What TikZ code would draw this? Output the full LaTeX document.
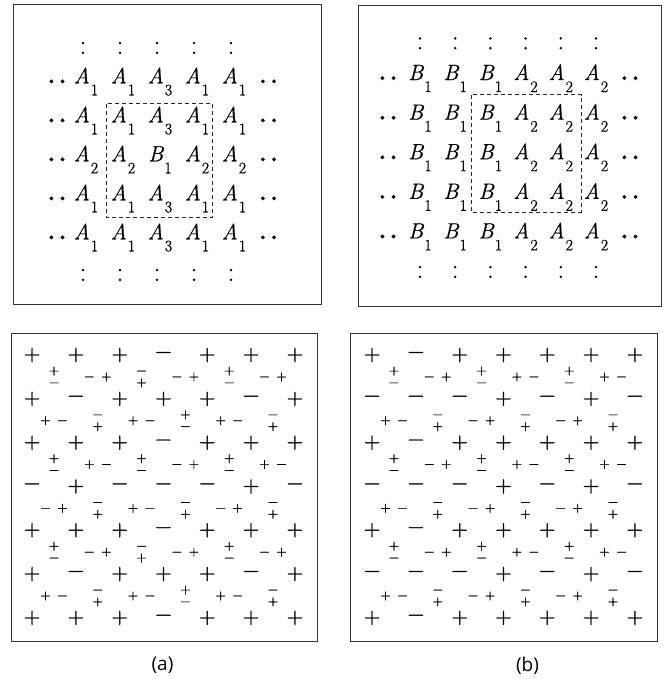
\documentclass[tikz,border=0pt]{standalone}
\usepackage{fontspec}
\newfontfamily\capfont{Open Sans}
\newfontfamily\gridfont{Latin Modern Roman}[FakeBold=0.6]
\newfontfamily\signfont{Latin Modern Roman}[FakeBold=1.5]
\usetikzlibrary{matrix}

\newcommand\lsub[1]{\kern1pt\lower12pt\hbox{\fontsize{16}{16}\selectfont\upshape #1}}
\newcommand\hpair[2]{\hbox to 0pt{\hss\fontsize{13.5}{12}\selectfont#1\kern6.7pt#2\hss}}
\newcommand\vpair[2]{$\vcenter{\fontsize{13.5}{12}\selectfont\baselineskip=11.8pt\hbox{\vphantom{+}#1}\hbox{\vphantom{+}#2}}$}

\begin{document}
\begin{tikzpicture}[x=1pt, y=-1pt,
	frame/.style={draw=black!80, line width=0.9pt},
	dashbox/.style={draw=black!85, line width=0.7pt, dash pattern=on 4pt off 3pt},
	vd/.style={font=\fontsize{28}{28}\selectfont\gridfont\upshape},
	dd/.style={font=\fontsize{26}{26}\selectfont\gridfont\bfseries}]
	\useasboundingbox (0,0) rectangle (671,679);
	% frames
	\draw[frame] (13,4) rectangle (321,304);
	\draw[frame] (358,5) rectangle (661,306);
	\draw[frame] (11,333) rectangle (317,641);
	\draw[frame] (350,333) rectangle (657,641);
	% (a) top
	\matrix (L) [matrix of nodes, nodes={minimum width=37pt, minimum height=39pt, text height=15pt, text depth=12pt, inner sep=0pt, anchor=center, font=\fontsize{22}{22}\selectfont\gridfont\itshape}, inner sep=0pt, column sep=0pt, row sep=0pt] at (162.75,166) {
		&[-8pt] |[vd]| :\kern6pt & |[vd]| :\kern6pt & |[vd]| :\kern6pt & |[vd]| :\kern6pt & |[vd]| :\kern6pt &[-2.5pt] \\[-9.7pt]
		|[dd]| .\kern3pt. &[-8pt] A\lsub{1} & A\lsub{1} & A\lsub{3} & A\lsub{1} & A\lsub{1} &[-2.5pt] |[dd]| .\kern3pt. \\
		|[dd]| .\kern3pt. &[-8pt] A\lsub{1} & A\lsub{1} & A\lsub{3} & A\lsub{1} & A\lsub{1} &[-2.5pt] |[dd]| .\kern3pt. \\
		|[dd]| .\kern3pt. &[-8pt] A\lsub{2} & A\lsub{2} & B\lsub{1} & A\lsub{2} & A\lsub{2} &[-2.5pt] |[dd]| .\kern3pt. \\
		|[dd]| .\kern3pt. &[-8pt] A\lsub{1} & A\lsub{1} & A\lsub{3} & A\lsub{1} & A\lsub{1} &[-2.5pt] |[dd]| .\kern3pt. \\
		|[dd]| .\kern3pt. &[-8pt] A\lsub{1} & A\lsub{1} & A\lsub{3} & A\lsub{1} & A\lsub{1} &[-2.5pt] |[dd]| .\kern3pt. \\[2.7pt]
		&[-8pt] |[vd]| :\kern6pt & |[vd]| :\kern6pt & |[vd]| :\kern6pt & |[vd]| :\kern6pt & |[vd]| :\kern6pt &[-2.5pt] \\
	};
	\draw[dashbox] ([shift={(2.2,2.7)}]L-3-3.north west) rectangle ([shift={(-3.2,-1)}]L-5-5.south east);
	% (b) top
	\matrix (R) [matrix of nodes, nodes={minimum width=35.2pt, minimum height=39.6pt, text height=15pt, text depth=12pt, inner sep=0pt, anchor=center, font=\fontsize{22}{22}\selectfont\gridfont\itshape}, inner sep=0pt, column sep=0pt, row sep=0pt] at (509,162.15) {
		&[-3.2pt] |[vd]| : & |[vd]| : & |[vd]| : & |[vd]| : & |[vd]| : & |[vd]| : &[-1.2pt] \\[-8.9pt]
		|[dd]| .\kern3pt. &[-3.2pt] B\lsub{1} & B\lsub{1} & B\lsub{1} & A\lsub{2} & A\lsub{2} & A\lsub{2} &[-1.2pt] |[dd]| .\kern3pt. \\
		|[dd]| .\kern3pt. &[-3.2pt] B\lsub{1} & B\lsub{1} & B\lsub{1} & A\lsub{2} & A\lsub{2} & A\lsub{2} &[-1.2pt] |[dd]| .\kern3pt. \\
		|[dd]| .\kern3pt. &[-3.2pt] B\lsub{1} & B\lsub{1} & B\lsub{1} & A\lsub{2} & A\lsub{2} & A\lsub{2} &[-1.2pt] |[dd]| .\kern3pt. \\
		|[dd]| .\kern3pt. &[-3.2pt] B\lsub{1} & B\lsub{1} & B\lsub{1} & A\lsub{2} & A\lsub{2} & A\lsub{2} &[-1.2pt] |[dd]| .\kern3pt. \\
		|[dd]| .\kern3pt. &[-3.2pt] B\lsub{1} & B\lsub{1} & B\lsub{1} & A\lsub{2} & A\lsub{2} & A\lsub{2} &[-1.2pt] |[dd]| .\kern3pt. \\
		&[-3.2pt] |[vd]| : & |[vd]| : & |[vd]| : & |[vd]| : & |[vd]| : & |[vd]| : &[-1.2pt] \\
	};
	\draw[dashbox] ([shift={(-1.1,-3.3)}]R-3-4.north west) rectangle ([shift={(2.3,-5.4)}]R-5-6.south east);
	% (a) signs
	\matrix (Sa) [matrix of nodes, nodes={minimum size=21.9pt, inner sep=0pt, anchor=center, font=\fontsize{22.5}{22.5}\selectfont\signfont}, inner sep=0pt, column sep=0pt, row sep=0pt] at (163.5,486.5) {
		+ & & + & & + & & − & & + & & + & & + \\
		& \vpair{+}{−} & & \hpair{−}{+} & & \vpair{−}{+} & & \hpair{−}{+} & & \vpair{+}{−} & & \hpair{−}{+} & \\
		+ & & − & & + & & + & & + & & − & & + \\
		& \hpair{+}{−} & & \vpair{−}{+} & & \hpair{+}{−} & & \vpair{+}{−} & & \hpair{+}{−} & & \vpair{−}{+} & \\
		+ & & + & & + & & − & & + & & + & & + \\
		& \vpair{+}{−} & & \hpair{+}{−} & & \vpair{+}{−} & & \hpair{−}{+} & & \vpair{+}{−} & & \hpair{+}{−} & \\
		− & & + & & − & & − & & − & & + & & − \\
		& \hpair{−}{+} & & \vpair{−}{+} & & \hpair{+}{−} & & \vpair{−}{+} & & \hpair{−}{+} & & \vpair{−}{+} & \\
		+ & & + & & + & & − & & + & & + & & + \\
		& \vpair{+}{−} & & \hpair{−}{+} & & \vpair{−}{+} & & \hpair{−}{+} & & \vpair{+}{−} & & \hpair{−}{+} & \\
		+ & & − & & + & & + & & + & & − & & + \\
		& \hpair{+}{−} & & \vpair{−}{+} & & \hpair{+}{−} & & \vpair{+}{−} & & \hpair{+}{−} & & \vpair{−}{+} & \\
		+ & & + & & + & & − & & + & & + & & + \\
	};
	% (b) signs
	\matrix (Sb) [matrix of nodes, nodes={minimum size=21.9pt, inner sep=0pt, anchor=center, font=\fontsize{22.5}{22.5}\selectfont\signfont}, inner sep=0pt, column sep=0pt, row sep=0pt] at (503.5,486.5) {
		+ & & − & & + & & + & & + & & + & & + \\
		& \vpair{+}{−} & & \hpair{−}{+} & & \vpair{+}{−} & & \hpair{+}{−} & & \vpair{+}{−} & & \hpair{+}{−} & \\
		− & & − & & − & & + & & − & & + & & − \\
		& \hpair{+}{−} & & \vpair{−}{+} & & \hpair{−}{+} & & \vpair{−}{+} & & \hpair{−}{+} & & \vpair{−}{+} & \\
		+ & & − & & + & & + & & + & & + & & + \\
		& \vpair{+}{−} & & \hpair{−}{+} & & \vpair{+}{−} & & \hpair{+}{−} & & \vpair{+}{−} & & \hpair{+}{−} & \\
		− & & − & & − & & + & & − & & + & & − \\
		& \hpair{+}{−} & & \vpair{−}{+} & & \hpair{−}{+} & & \vpair{−}{+} & & \hpair{−}{+} & & \vpair{−}{+} & \\
		+ & & − & & + & & + & & + & & + & & + \\
		& \vpair{+}{−} & & \hpair{−}{+} & & \vpair{+}{−} & & \hpair{+}{−} & & \vpair{+}{−} & & \hpair{+}{−} & \\
		− & & − & & − & & + & & − & & + & & − \\
		& \hpair{+}{−} & & \vpair{−}{+} & & \hpair{−}{+} & & \vpair{−}{+} & & \hpair{−}{+} & & \vpair{−}{+} & \\
		+ & & − & & + & & + & & + & & + & & + \\
	};
	\node (la) at (162.5,665.5) {\capfont\fontsize{19}{19}\selectfont (a)};
	\node (lb) at (527.5,665.5) {\capfont\fontsize{19}{19}\selectfont (b)};
\end{tikzpicture}
\end{document}
